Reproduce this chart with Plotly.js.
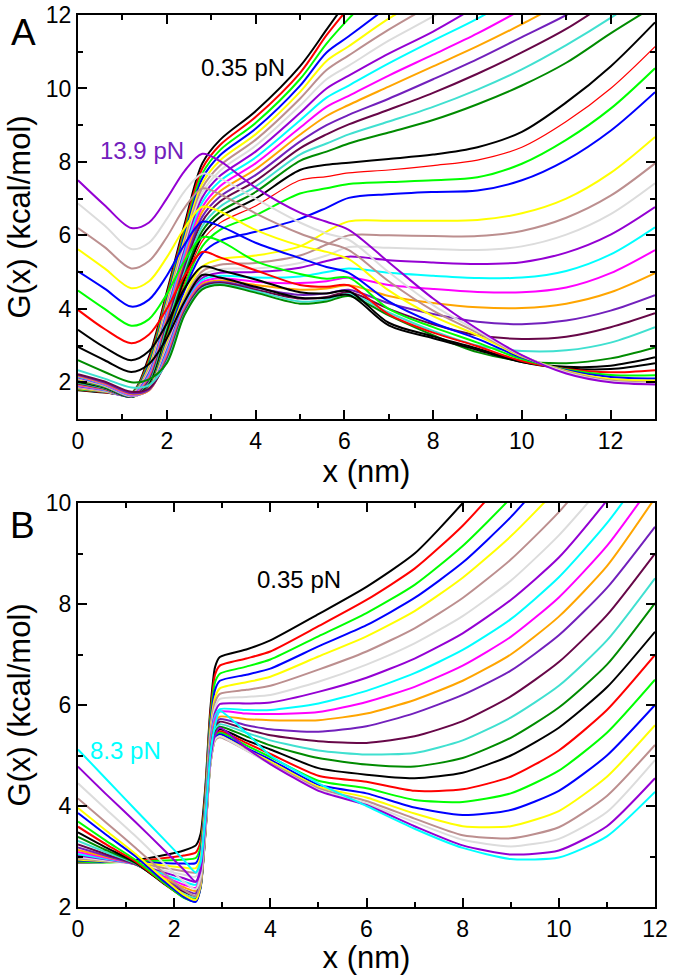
<!DOCTYPE html>
<html><head><meta charset="utf-8">
<script src="https://cdn.plot.ly/plotly-3.0.1.min.js"></script>
<style>html,body{margin:0;padding:0;background:#fff}</style>
</head><body><div id="chart" style="width:676px;height:975px"></div>
<script>
// ---------- Panel A : x grid (nm) and G(x) curves (kcal/mol), 0.35 pN ... 13.9 pN ----------
const xA = [0, 0.6, 1.2, 1.6, 2.0, 2.4, 2.8, 3.2, 4, 5, 5.6, 6.1, 7, 8, 9, 10, 11, 12, 13];
const A01 = [1.78,1.72,1.70,2.70,4.45,6.30,7.96,8.60,9.38,10.60,11.60,12.45,null,null,null,null,null,null,null];
const A02 = [1.80,1.73,1.69,2.62,4.37,6.20,7.82,8.46,9.22,10.42,11.45,12.20,13.50,null,null,null,null,null,null];
const A03 = [1.81,1.74,1.68,2.55,4.30,6.10,7.68,8.32,9.06,10.25,11.22,11.90,13.00,null,null,null,null,null,null];
const A04 = [1.83,1.74,1.67,2.48,4.22,6.00,7.55,8.18,8.90,10.07,10.98,11.42,12.25,13.30,null,null,null,null,null];
const A05 = [1.84,1.75,1.66,2.42,4.15,5.90,7.42,8.04,8.75,9.90,10.75,11.15,11.90,12.60,null,null,null,null,null];
const A06 = [1.86,1.76,1.65,2.36,4.07,5.80,7.29,7.90,8.60,9.72,10.50,10.90,11.60,12.30,null,null,null,null,null];
const A07 = [1.88,1.77,1.64,2.30,4.00,5.70,7.16,7.76,8.44,9.53,10.25,10.62,11.30,11.96,12.70,null,null,null,null];
const A08 = [1.89,1.78,1.63,2.25,3.92,5.60,7.03,7.62,8.28,9.33,10.00,10.35,10.95,11.55,12.25,null,null,null,null];
const A09 = [1.91,1.79,1.62,2.20,3.85,5.50,6.90,7.48,8.12,9.13,9.75,10.08,10.68,11.30,11.90,12.60,null,null,null];
const A10 = [1.92,1.80,1.62,2.15,3.77,5.40,6.77,7.34,7.96,8.93,9.50,9.80,10.35,10.92,11.50,12.15,null,null,null];
const A11 = [1.94,1.81,1.61,2.10,3.70,5.30,6.64,7.20,7.80,8.74,9.25,9.55,10.05,10.60,11.15,11.75,12.40,null,null];
const A12 = [1.96,1.82,1.61,2.06,3.62,5.20,6.51,7.06,7.64,8.55,9.00,9.28,9.72,10.25,10.80,11.40,12.00,12.70,null];
const A13 = [1.97,1.83,1.60,2.02,3.55,5.10,6.38,6.92,7.48,8.37,8.75,9.02,9.42,9.88,10.40,10.98,11.62,12.40,null];
const A14 = [1.99,1.84,1.60,1.98,3.48,5.00,6.25,6.78,7.33,8.20,8.50,8.75,9.10,9.50,9.97,10.52,11.18,11.92,12.75];
const A15 = [2.00,1.85,1.60,1.95,3.40,4.90,6.12,6.64,7.18,8.03,8.28,8.50,8.80,9.14,9.57,10.08,10.70,11.50,12.25];
const A16 = [2.02,1.86,1.60,1.92,3.33,4.80,5.99,6.50,7.00,7.78,7.92,7.98,8.08,8.20,8.40,8.82,9.62,10.60,11.80];
const A17 = [2.04,1.87,1.60,1.90,3.26,4.70,5.85,6.34,6.80,7.50,7.60,7.70,7.78,7.90,8.05,8.40,9.10,10.00,11.14];
const A18 = [2.05,1.88,1.61,1.88,3.19,4.60,5.70,6.15,6.55,7.14,7.28,7.40,7.45,7.50,7.58,7.95,8.60,9.45,10.55];
const A19 = [2.07,1.89,1.61,1.86,3.12,4.50,5.50,5.85,6.10,6.45,6.75,7.02,7.12,7.18,7.22,7.50,8.05,8.85,9.90];
const A20 = [2.08,1.90,1.62,1.84,3.05,4.35,5.15,5.35,5.45,5.70,6.10,6.38,6.40,6.40,6.42,6.60,7.00,7.70,8.68];
const A21 = [2.10,1.91,1.62,1.82,2.98,4.27,5.02,5.20,5.25,5.45,5.75,6.00,6.00,5.98,5.98,6.12,6.48,7.08,7.96];
const A22 = [2.12,1.92,1.63,1.81,2.92,4.20,4.92,5.08,5.10,5.25,5.45,5.68,5.66,5.63,5.60,5.70,6.02,6.58,7.42];
const A23 = [2.13,1.93,1.64,1.80,2.86,4.14,4.84,4.98,5.00,5.12,5.30,5.42,5.32,5.26,5.22,5.27,5.53,6.02,6.77];
const A24 = [2.15,1.94,1.65,1.79,2.80,4.08,4.78,4.90,4.85,4.88,5.00,5.10,4.98,4.90,4.84,4.85,5.03,5.48,6.22];
const A25 = [2.17,1.95,1.66,1.78,2.74,4.03,4.72,4.83,4.74,4.70,4.75,4.85,4.65,4.54,4.46,4.45,4.58,4.97,5.60];
const A26 = [2.18,1.97,1.68,1.78,2.68,3.98,4.67,4.77,4.65,4.52,4.55,4.64,4.35,4.16,4.04,4.02,4.14,4.45,4.97];
const A27 = [2.20,1.99,1.70,1.80,2.63,3.94,4.63,4.73,4.57,4.38,4.42,4.52,4.15,3.86,3.65,3.58,3.68,3.95,4.37];
const A28 = [2.22,2.02,1.74,1.83,2.58,3.90,4.60,4.70,4.52,4.28,4.32,4.45,4.00,3.58,3.28,3.18,3.24,3.50,3.88];
const A29 = [2.33,2.10,1.86,1.92,2.55,3.86,4.56,4.67,4.48,4.20,4.25,4.40,3.90,3.40,3.00,2.85,2.87,3.08,3.50];
const A30 = [2.60,2.28,2.00,2.08,2.52,3.83,4.53,4.65,4.44,4.14,4.20,4.35,3.82,3.28,2.82,2.58,2.52,2.65,2.95];
const A31 = [2.96,2.60,2.28,2.50,3.20,4.20,4.92,4.85,4.60,4.30,4.30,4.38,3.55,3.20,2.88,2.55,2.42,2.45,2.68];
const A32 = [3.43,2.95,2.60,2.85,3.60,4.55,5.15,5.05,4.80,4.45,4.42,4.48,3.62,3.25,2.92,2.55,2.38,2.36,2.52];
const A33 = [3.97,3.45,3.06,3.30,4.00,4.90,5.55,5.40,5.05,4.65,4.60,4.64,3.85,3.35,2.98,2.58,2.36,2.27,2.33];
const A34 = [4.50,4.00,3.54,3.72,4.40,5.30,5.95,5.85,5.30,4.95,4.82,4.85,4.00,3.50,3.08,2.63,2.35,2.20,2.19];
const A35 = [5.02,4.55,4.06,4.25,4.90,5.75,6.37,6.25,5.80,5.38,5.14,4.98,4.20,3.62,3.18,2.67,2.33,2.14,2.10];
const A36 = [5.62,5.10,4.56,4.75,5.40,6.20,6.78,6.65,6.15,5.72,5.55,5.35,4.50,3.80,3.28,2.70,2.31,2.09,2.05];
const A37 = [6.20,5.68,5.10,5.30,5.95,6.75,7.28,7.12,6.60,6.05,5.80,5.60,4.75,3.95,3.35,2.72,2.29,2.05,2.00];
const A38 = [6.87,6.27,5.63,5.80,6.45,7.20,7.68,7.55,7.00,6.35,6.05,5.88,5.00,4.10,3.40,2.73,2.27,2.02,1.97];
const A39 = [7.50,6.82,6.20,6.35,7.00,7.75,8.22,8.02,7.30,6.62,6.37,6.15,5.27,4.28,3.45,2.74,2.24,2.00,1.94];

// ---------- Panel B : x grid (nm) and G(x) curves (kcal/mol), 0.35 pN ... 8.3 pN ----------
const xB = [0, 0.6, 1.2, 1.8, 2.2, 2.45, 2.55, 2.65, 2.75, 2.85, 2.95, 3.5, 4, 5, 6, 7, 8, 9, 10, 11, 12];
const B01 = [2.88,2.89,2.93,3.03,3.12,3.22,3.45,4.40,5.90,6.75,6.95,7.10,7.28,7.80,8.34,9.00,10.00,11.20,null,null,null];
const B02 = [2.89,2.89,2.91,2.97,3.02,3.08,3.30,4.30,5.80,6.60,6.78,6.92,7.06,7.56,8.08,8.70,9.55,10.60,null,null,null];
const B03 = [2.90,2.88,2.90,2.92,2.94,2.97,3.20,4.20,5.70,6.45,6.62,6.76,6.90,7.36,7.82,8.38,9.15,10.10,11.20,null,null];
const B04 = [2.92,2.89,2.89,2.87,2.86,2.87,3.10,4.10,5.60,6.30,6.48,6.60,6.72,7.16,7.58,8.12,8.82,9.72,10.80,null,null];
const B05 = [2.94,2.90,2.88,2.82,2.78,2.77,3.00,4.00,5.50,6.15,6.33,6.45,6.56,6.96,7.36,7.86,8.52,9.34,10.32,11.50,null];
const B06 = [2.96,2.91,2.87,2.77,2.71,2.68,2.92,3.95,5.40,6.05,6.22,6.30,6.38,6.70,7.06,7.52,8.12,8.88,9.82,10.95,null];
const B07 = [2.99,2.92,2.86,2.72,2.64,2.60,2.85,3.90,5.30,5.95,6.12,6.16,6.20,6.46,6.80,7.22,7.76,8.46,9.36,10.45,11.70];
const B08 = [3.02,2.94,2.85,2.68,2.57,2.50,2.78,3.85,5.25,5.85,6.02,6.03,6.05,6.26,6.54,6.92,7.42,8.08,8.92,10.05,11.30];
const B09 = [3.05,2.95,2.84,2.64,2.50,2.44,2.72,3.80,5.20,5.78,5.92,5.90,5.90,6.03,6.28,6.63,7.09,7.70,8.53,9.60,10.90];
const B10 = [3.09,2.97,2.84,2.60,2.44,2.38,2.66,3.75,5.15,5.72,5.87,5.83,5.82,5.86,6.06,6.36,6.78,7.35,8.13,9.15,10.45];
const B11 = [3.13,2.99,2.84,2.56,2.39,2.32,2.60,3.70,5.10,5.65,5.77,5.72,5.70,5.70,5.83,6.10,6.48,7.00,7.75,8.75,10.10];
const B12 = [3.18,3.01,2.84,2.53,2.34,2.27,2.55,3.65,5.05,5.60,5.72,5.60,5.52,5.47,5.58,5.84,6.20,6.68,7.38,8.32,9.53];
const B13 = [3.24,3.04,2.85,2.50,2.30,2.22,2.50,3.60,5.00,5.55,5.67,5.52,5.40,5.28,5.25,5.38,5.68,6.17,6.85,7.78,9.00];
const B14 = [3.31,3.08,2.86,2.48,2.26,2.18,2.46,3.56,4.95,5.50,5.62,5.45,5.30,5.10,5.02,5.05,5.30,5.75,6.38,7.28,8.51];
const B15 = [3.39,3.12,2.87,2.46,2.23,2.15,2.43,3.52,4.90,5.45,5.57,5.38,5.20,4.95,4.82,4.78,4.95,5.35,5.95,6.80,8.02];
const B16 = [3.48,3.17,2.88,2.45,2.20,2.13,2.41,3.50,4.87,5.40,5.52,5.30,5.12,4.75,4.62,4.55,4.66,5.00,5.55,6.35,7.45];
const B17 = [3.59,3.23,2.90,2.46,2.19,2.12,2.40,3.48,4.85,5.37,5.48,5.25,5.03,4.60,4.48,4.30,4.33,4.58,5.10,5.90,6.99];
const B18 = [3.69,3.30,2.93,2.47,2.18,2.11,2.39,3.46,4.82,5.34,5.45,5.20,4.97,4.50,4.35,4.12,4.08,4.25,4.70,5.45,6.50];
const B19 = [3.86,3.42,3.00,2.50,2.20,2.10,2.38,3.45,4.80,5.32,5.42,5.15,4.92,4.42,4.25,3.97,3.82,3.92,4.30,5.00,6.00];
const B20 = [3.96,3.50,3.05,2.55,2.24,2.14,2.42,3.45,4.80,5.30,5.38,5.12,4.88,4.38,4.17,3.85,3.60,3.60,3.90,4.58,5.60];
const B21 = [4.15,3.66,3.17,2.66,2.34,2.22,2.48,3.48,4.80,5.30,5.36,5.10,4.85,4.35,4.10,3.75,3.42,3.36,3.58,4.20,5.21];
const B22 = [4.45,3.92,3.40,2.85,2.50,2.35,2.60,3.55,4.83,5.32,5.38,5.10,4.83,4.32,4.05,3.68,3.33,3.20,3.35,3.88,4.91];
const B23 = [4.78,4.22,3.68,3.12,2.74,2.50,2.72,3.65,4.90,5.40,5.55,5.15,4.83,4.30,4.02,3.60,3.22,3.04,3.12,3.60,4.55];
const B24 = [5.12,4.52,3.92,3.33,2.93,2.68,2.88,3.78,5.00,5.60,5.88,5.45,5.00,4.45,4.00,3.55,3.17,2.95,2.98,3.40,4.28];

// ---------- tick labels and curve labels ----------
const ticksAx = [0, 2, 4, 6, 8, 10, 12];
const ticksAy = [2, 4, 6, 8, 10, 12];
const ticksBx = [0, 2, 4, 6, 8, 10, 12];
const ticksBy = [2, 4, 6, 8, 10];
const labelsA = ['0.35 pN', '13.9 pN'];
const labelsB = ['0.35 pN', '8.3 pN'];

// ---------- styling ----------
const BLK='#000000', RED='#ff0000', GRN='#00ff00', BLU='#0000ff', YEL='#ffff00', BRN='#bc8f8f',
      GRY='#dcdcdc', VIO='#9400d3', CYN='#00ffff', MAG='#ff00ff', ORG='#ffa500', IND='#7220bc',
      MAR='#670748', TRQ='#40e0d0', GR4='#008b00';
const cycle = [BLK,RED,GRN,BLU,YEL,BRN,GRY,VIO,CYN,MAG,ORG,IND,MAR,TRQ,GR4];
const seriesA = [A01,A02,A03,A04,A05,A06,A07,A08,A09,A10,A11,A12,A13,A14,A15,A16,A17,A18,A19,A20,
                 A21,A22,A23,A24,A25,A26,A27,A28,A29,A30,A31,A32,A33,A34,A35,A36,A37,A38,A39];
const colorsA = cycle.concat(cycle).concat([BLK,BLK,RED,GRN,BLU,YEL,BRN,GRY,VIO]);
const seriesB = [B01,B02,B03,B04,B05,B06,B07,B08,B09,B10,B11,B12,B13,B14,B15,B16,B17,B18,B19,B20,B21,B22,B23,B24];
const colorsB = cycle.concat([BLK,RED,GRN,BLU,YEL,BRN,GRY,VIO,CYN]);

const traces = [];
seriesA.forEach((ys, i) => traces.push({
  x: xA, y: ys, type: 'scatter', mode: 'lines', xaxis: 'x', yaxis: 'y',
  line: {color: colorsA[i], width: (i === 16 ? 1.2 : 2), shape: 'spline', smoothing: 0.9},
  hoverinfo: 'skip', showlegend: false
}));
seriesB.forEach((ys, i) => traces.push({
  x: xB, y: ys, type: 'scatter', mode: 'lines', xaxis: 'x2', yaxis: 'y2',
  line: {color: colorsB[i], width: 2, shape: 'spline', smoothing: 0.6},
  hoverinfo: 'skip', showlegend: false
}));

const FONT = 'Liberation Sans, Arial, Helvetica, sans-serif';
function axis(extra) {
  return Object.assign({
    showline: true, linecolor: '#000', linewidth: 2, mirror: 'allticks',
    ticks: 'inside', ticklen: 9, tickwidth: 2, tickcolor: '#000',
    showgrid: false, zeroline: false, fixedrange: true,
    tickfont: {family: FONT, size: 23, color: '#000'},
    minor: {dtick: 1, ticks: 'inside', ticklen: 5, tickwidth: 2, tickcolor: '#000', showgrid: false}
  }, extra);
}
const titleFont = {family: FONT, size: 31, color: '#000'};

const layout = {
  width: 676, height: 975,
  margin: {l: 78, r: 21, t: 15, b: 68},
  paper_bgcolor: '#fff', plot_bgcolor: '#fff', showlegend: false,
  font: {family: FONT, color: '#000'},
  xaxis: axis({domain: [0, 1], range: [0, 13], anchor: 'y', tickvals: ticksAx, ticktext: ticksAx.map(String),
               title: {text: 'x (nm)', font: titleFont, standoff: 0}}),
  yaxis: axis({domain: [0.5471, 1], range: [1, 12], anchor: 'x', tickvals: ticksAy, ticktext: ticksAy.map(String),
               minor: {tick0: 1, dtick: 1, ticks: 'inside', ticklen: 5, tickwidth: 2, tickcolor: '#000'},
               title: {text: 'G(x) (kcal/mol)', font: titleFont, standoff: 6}}),
  xaxis2: axis({domain: [0, 1], range: [0, 12], anchor: 'y2', tickvals: ticksBx, ticktext: ticksBx.map(String),
               title: {text: 'x (nm)', font: titleFont, standoff: 0}}),
  yaxis2: axis({domain: [0, 0.4529], range: [2, 10], anchor: 'x2', tickvals: ticksBy, ticktext: ticksBy.map(String),
               title: {text: 'G(x) (kcal/mol)', font: titleFont, standoff: 6}}),
  annotations: [
    {xref: 'paper', yref: 'paper', x: -0.095, y: 0.98, text: 'A', showarrow: false,
     font: {family: FONT, size: 37, color: '#000'}, xanchor: 'center', yanchor: 'middle'},
    {xref: 'paper', yref: 'paper', x: -0.097, y: 0.428, text: 'B', showarrow: false,
     font: {family: FONT, size: 37, color: '#000'}, xanchor: 'center', yanchor: 'middle'},
    {xref: 'x', yref: 'y', x: 3.72, y: 10.58, text: labelsA[0], showarrow: false,
     font: {family: FONT, size: 24, color: BLK}, xanchor: 'center', yanchor: 'middle'},
    {xref: 'x', yref: 'y', x: 1.44, y: 8.32, text: labelsA[1], showarrow: false,
     font: {family: FONT, size: 24, color: IND}, xanchor: 'center', yanchor: 'middle'},
    {xref: 'x2', yref: 'y2', x: 4.6, y: 8.48, text: labelsB[0], showarrow: false,
     font: {family: FONT, size: 24, color: BLK}, xanchor: 'center', yanchor: 'middle'},
    {xref: 'x2', yref: 'y2', x: 0.98, y: 5.09, text: labelsB[1], showarrow: false,
     font: {family: FONT, size: 24, color: CYN}, xanchor: 'center', yanchor: 'middle'}
  ]
};

Plotly.newPlot('chart', traces, layout, {staticPlot: true, displayModeBar: false});
</script>
</body></html>
